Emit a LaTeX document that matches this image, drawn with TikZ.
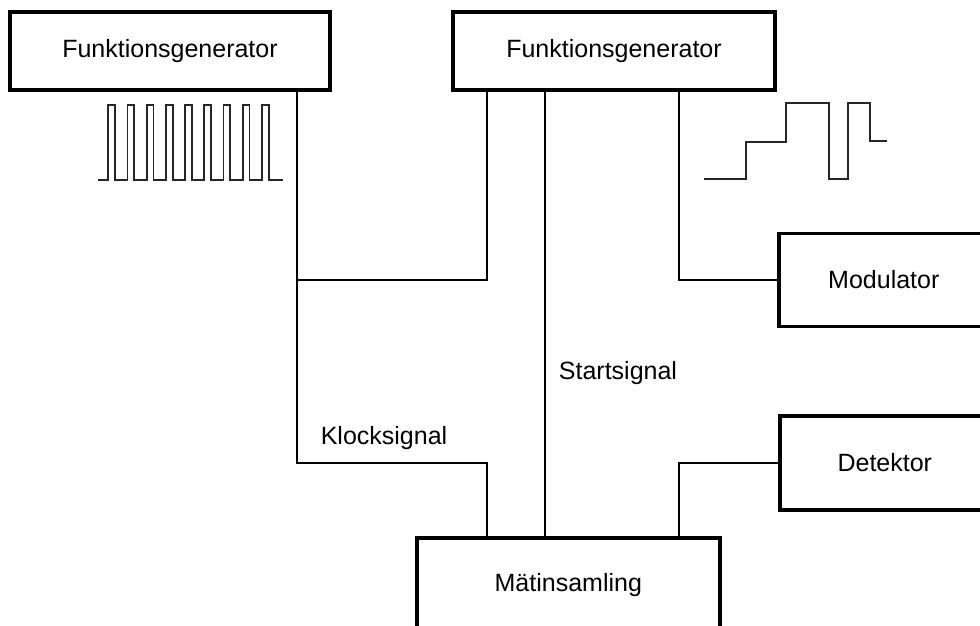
\documentclass[tikz,border=0pt]{standalone}
\usepackage{fontspec}
\setmainfont{Liberation Sans}
\usepackage{tikz}
\usetikzlibrary{positioning}
\tikzstyle{unit} = [rectangle, draw=black, line width=3.6pt, inner sep=0pt, font=\fontsize{25}{29}\selectfont]
\tikzstyle{wire} = [line width=1.4pt, line join=miter]
\tikzstyle{wave} = [line width=1.8pt, draw=black!85]
\tikzstyle{sig} = [font=\fontsize{25}{29}\selectfont]

\begin{document}
\begin{tikzpicture}[x=1pt, y=-1pt]
\useasboundingbox (0,0) rectangle (980,626);

\node (gen1) [unit, minimum width=320pt, minimum height=78pt] at (170,51) {Funktionsgenerator};
\node (gen2) [unit, minimum width=322pt, minimum height=78pt] at (614,51) {Funktionsgenerator};
\node (mod) [unit, minimum width=210pt, minimum height=93pt, anchor=west] at (777,280) {Modulator};
\node (det) [unit, minimum width=210pt, minimum height=94pt, anchor=west] at (778,463) {Detektor};
\node (acq) [unit, minimum width=303pt, minimum height=94pt, anchor=north west] at (415,536) {Mätinsamling};

\coordinate (clk) at (487,463);
\coordinate (join) at (297,280);
\coordinate (detx) at (679,463);

% klocksignal
\draw[wire] ([xshift=127pt]gen1.south) |- (clk) -- (clk |- acq.north);
\draw[wire] ([xshift=-127pt]gen2.south) |- (join);
% startsignal
\draw[wire] ([xshift=-69pt]gen2.south) -- ([xshift=-69pt]gen2.south |- acq.north);
% modulator och detektor
\draw[wire] ([xshift=65pt]gen2.south) |- (mod.west);
\draw[wire] (det.west) -- (detx) -- (detx |- acq.north);

\node (klock) [sig] at (384,438) {Klocksignal};
\node (start) [sig] at (618,373) {Startsignal};

% pulståg
\draw[wave] (98,180) \foreach \i in {0,...,8} { -- ({108.3+19.2*\i},180) -- ++(0,-75) -- ++(6.7,0) -- ++(0,75) } -- (283,180);

% trappsignal
\draw[wave] (704,179) -- (746,179) -- (746,142) -- (786,142) -- (786,103) -- (829,103) -- (829,179) -- (848,179) -- (848,103) -- (870,103) -- (870,141) -- (887,141);

\end{tikzpicture}
\end{document}
